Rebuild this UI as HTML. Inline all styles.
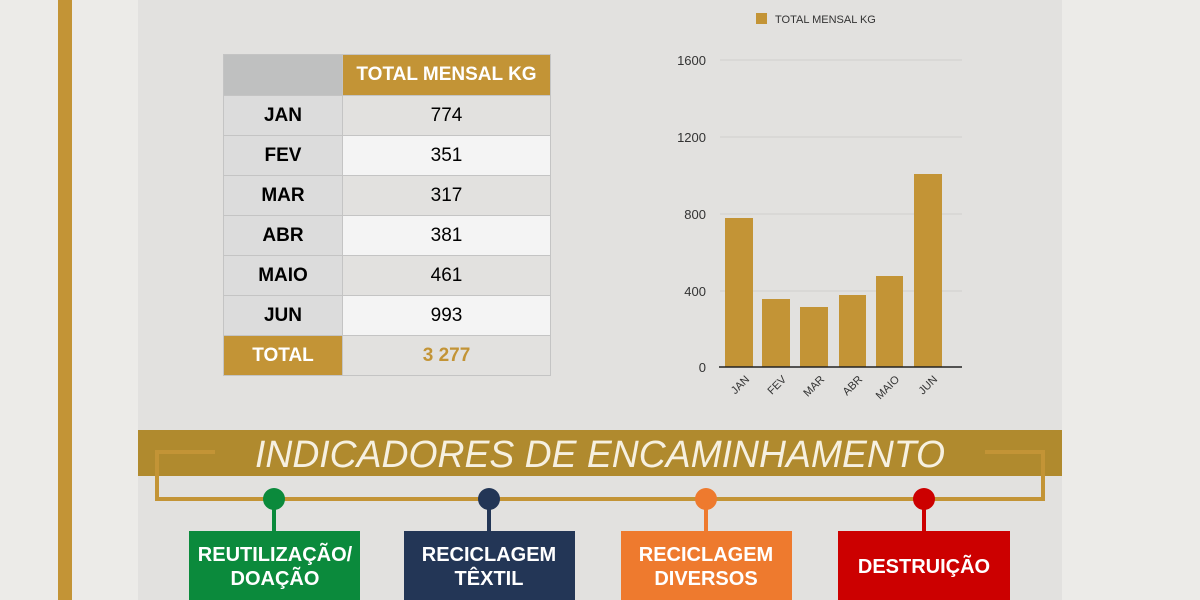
<!DOCTYPE html>
<html><head><meta charset="utf-8"><style>
body{margin:0;width:1200px;height:600px;overflow:hidden;background:#ecebe8;position:relative;font-family:"Liberation Sans",sans-serif}
.a{position:absolute}
td{border:1px solid #c4c4c4;height:39px;text-align:center;font-size:19px;padding:0}
</style></head><body>
<div class="a" style="left:58px;top:0;width:14px;height:600px;background:#c39436"></div>
<div class="a" style="left:138px;top:0;width:924px;height:600px;background:#e2e1df"></div>
<table class="a" style="left:223px;top:54px;border-collapse:collapse;width:328px">
<tr><td style="background:#bfc0c0;width:118px;height:40px"></td><td style="background:#c39436;color:#fff;font-weight:bold">TOTAL MENSAL KG</td></tr>
<tr><td style="background:#dcdcdc;font-weight:bold">JAN</td><td style="background:#e2e1df">774</td></tr>
<tr><td style="background:#dcdcdc;font-weight:bold">FEV</td><td style="background:#f4f4f4">351</td></tr>
<tr><td style="background:#dcdcdc;font-weight:bold">MAR</td><td style="background:#e2e1df">317</td></tr>
<tr><td style="background:#dcdcdc;font-weight:bold">ABR</td><td style="background:#f4f4f4">381</td></tr>
<tr><td style="background:#dcdcdc;font-weight:bold">MAIO</td><td style="background:#e2e1df">461</td></tr>
<tr><td style="background:#dcdcdc;font-weight:bold">JUN</td><td style="background:#f4f4f4">993</td></tr>
<tr><td style="background:#c39436;color:#fff;font-weight:bold">TOTAL</td><td style="background:#e2e1df;color:#c39436;font-weight:bold">3 277</td></tr>
</table>
<svg class="a" style="left:0;top:0" width="1200" height="600" font-family="Liberation Sans, sans-serif">
<rect x="756" y="13" width="11" height="11" fill="#c39436"/>
<text x="775" y="23" font-size="11" fill="#333">TOTAL MENSAL KG</text>
<g stroke="#d0cfcc" stroke-width="1"><line x1="720" y1="60" x2="962" y2="60"/><line x1="720" y1="137" x2="962" y2="137"/><line x1="720" y1="214" x2="962" y2="214"/><line x1="720" y1="291" x2="962" y2="291"/></g>
<g font-size="13" fill="#333" text-anchor="end"><text x="706" y="65">1600</text><text x="706" y="142">1200</text><text x="706" y="219">800</text><text x="706" y="296">400</text><text x="706" y="372">0</text></g>
<g fill="#c39436"><rect x="725" y="218" width="28" height="149"/><rect x="762" y="299" width="28" height="68"/><rect x="800" y="307" width="28" height="60"/><rect x="839" y="295" width="27" height="72"/><rect x="876" y="276" width="27" height="91"/><rect x="914" y="174" width="28" height="193"/></g>
<line x1="719" y1="367" x2="962" y2="367" stroke="#222" stroke-width="1.5"/>
<g font-size="11" fill="#333" text-anchor="end">
<text transform="translate(750,380) rotate(-45)">JAN</text><text transform="translate(787,380) rotate(-45)">FEV</text><text transform="translate(825,380) rotate(-45)">MAR</text><text transform="translate(863,380) rotate(-45)">ABR</text><text transform="translate(900,380) rotate(-45)">MAIO</text><text transform="translate(938,380) rotate(-45)">JUN</text></g>
<rect x="138" y="430" width="924" height="46" fill="#b08a2e"/>
<text x="600" y="467" font-size="38" fill="#f6f0e0" text-anchor="middle" font-style="italic" textLength="690" lengthAdjust="spacingAndGlyphs">INDICADORES DE ENCAMINHAMENTO</text>
<polyline points="215,452 157,452 157,499 1043,499 1043,452 985,452" fill="none" stroke="#c39436" stroke-width="4"/>
<g stroke-width="4"><line x1="274" y1="499" x2="274" y2="532" stroke="#0b8a3c"/><line x1="489" y1="499" x2="489" y2="532" stroke="#233656"/><line x1="706" y1="499" x2="706" y2="532" stroke="#ee7a2e"/><line x1="924" y1="499" x2="924" y2="532" stroke="#cc0000"/></g>
<circle cx="274" cy="499" r="11" fill="#0b8a3c"/><circle cx="489" cy="499" r="11" fill="#233656"/><circle cx="706" cy="499" r="11" fill="#ee7a2e"/><circle cx="924" cy="499" r="11" fill="#cc0000"/>
<rect x="189" y="531" width="171" height="69" fill="#0b8a3c"/><rect x="404" y="531" width="171" height="69" fill="#233656"/><rect x="621" y="531" width="171" height="69" fill="#ee7a2e"/><rect x="838" y="531" width="172" height="69" fill="#cc0000"/>
<g font-size="20" font-weight="bold" fill="#fff" text-anchor="middle">
<text x="275" y="561">REUTILIZAÇÃO/</text><text x="275" y="585">DOAÇÃO</text>
<text x="489" y="561">RECICLAGEM</text><text x="489" y="585">TÊXTIL</text>
<text x="706" y="561">RECICLAGEM</text><text x="706" y="585">DIVERSOS</text>
<text x="924" y="573">DESTRUIÇÃO</text></g>
</svg>
</body></html>
